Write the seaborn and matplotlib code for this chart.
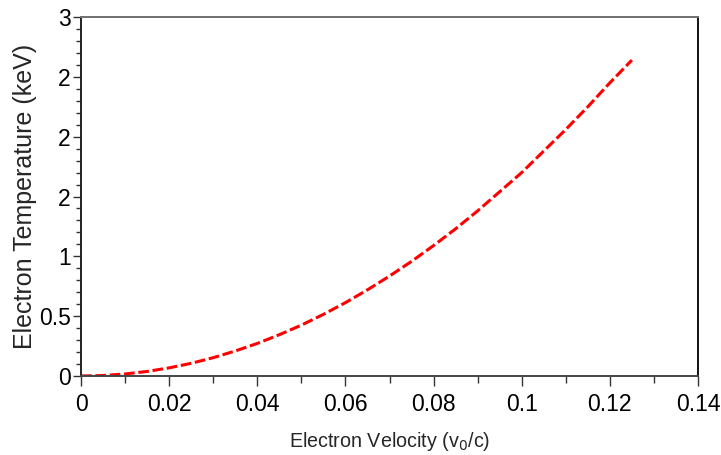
import matplotlib
matplotlib.use("Agg")
import matplotlib.pyplot as plt
from matplotlib.ticker import FixedLocator, FixedFormatter, MultipleLocator
import pandas as pd
import seaborn as sns

# Electron velocity (fraction of c) and the corresponding temperature (keV)
velocity = [0.000, 0.005, 0.010, 0.015, 0.020, 0.025, 0.030, 0.035, 0.040,
            0.045, 0.050, 0.055, 0.060, 0.065, 0.070, 0.075, 0.080, 0.085,
            0.090, 0.095, 0.100, 0.105, 0.110, 0.115, 0.120, 0.125]
temperature = [0.000, 0.004, 0.017, 0.038, 0.068, 0.106, 0.153, 0.209, 0.272,
               0.345, 0.425, 0.515, 0.613, 0.720, 0.835, 0.958, 1.090, 1.230,
               1.380, 1.540, 1.700, 1.880, 2.060, 2.250, 2.450, 2.640]

y_ticks = [0, 0.5, 1, 1.5, 2, 2.5, 3]
y_tick_labels = ["0", "0.5", "1", "2", "2", "2", "3"]
x_ticks = [0, 0.02, 0.04, 0.06, 0.08, 0.1, 0.12, 0.14]
x_tick_labels = ["0", "0.02", "0.04", "0.06", "0.08", "0.1", "0.12", "0.14"]

df = pd.DataFrame({"v": velocity, "T": temperature})

sns.set_style("white")
plt.rcParams["font.family"] = ["Liberation Sans", "DejaVu Sans"]

fig = plt.figure(figsize=(7.21, 4.55), dpi=100)
ax = fig.add_axes([81 / 721, 1 - 376 / 455, 617 / 721, 359 / 455])

sns.lineplot(data=df, x="v", y="T", ax=ax, color="#ff0000", linewidth=2.2,
             linestyle=(0, (3.5, 1.2)), legend=False)

ax.set_xlim(0, 0.14)
ax.set_ylim(0, 3)
ax.xaxis.set_major_locator(FixedLocator(x_ticks))
ax.xaxis.set_major_formatter(FixedFormatter(x_tick_labels))
ax.xaxis.set_minor_locator(MultipleLocator(0.01))
ax.yaxis.set_major_locator(FixedLocator(y_ticks))
ax.yaxis.set_major_formatter(FixedFormatter(y_tick_labels))
ax.yaxis.set_minor_locator(MultipleLocator(0.1))

ax.tick_params(axis="both", which="major", direction="out", labelsize=16.5,
               color="#333333", width=1.0, labelcolor="black")
ax.tick_params(axis="x", which="major", length=7.2, pad=5, bottom=True)
ax.tick_params(axis="x", which="minor", length=5, width=1.0, color="#333333", bottom=True)
ax.tick_params(axis="y", which="major", length=5.5, pad=2, left=True)
ax.tick_params(axis="y", which="minor", length=3.5, width=1.0, color="#333333", left=True)

for side, col in [("left", "#222222"), ("bottom", "#444444"),
                  ("right", "#111111"), ("top", "#707070")]:
    ax.spines[side].set_visible(True)
    ax.spines[side].set_color(col)
    ax.spines[side].set_linewidth(1.4)

ax.set_xlabel("Electron Velocity (v$_0$/c)", fontsize=14.2, labelpad=10)
ax.set_ylabel("Electron Temperature (keV)", fontsize=18)
ax.yaxis.set_label_coords((37 - 81) / 617, 0.5)

fig.savefig("out.png", dpi=100)
